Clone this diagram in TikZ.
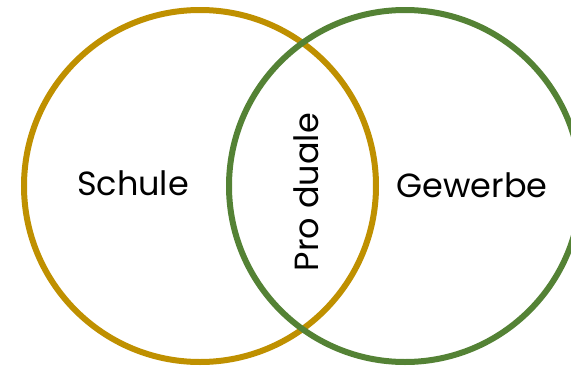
\documentclass[tikz,border=0pt]{standalone}
\usepackage{fontspec}
\setmainfont{Poppins}
\definecolor{gold}{HTML}{BF9000}
\definecolor{leafgreen}{HTML}{548235}
\tikzset{
  ring/.style={line width=6pt, draw=#1},
  lbl/.style={font=\fontsize{33.5}{40}\selectfont, inner sep=0pt, text=black}
}
\begin{document}
\begin{tikzpicture}[x=1pt,y=-1pt]
\useasboundingbox (0,0) rectangle (571,367);
\clip (0,0) rectangle (571,367);
\draw[ring=gold] (200,186) circle[radius=176];
\draw[ring=leafgreen] (405,186) circle[radius=176];
\node[lbl] (schule) at (133,183) {Schule};
\node[lbl] (gewerbe) at (472,185) {Gewerbe};
\node[lbl, rotate=90] (produale) at (306,192) {Pro duale};
\end{tikzpicture}
\end{document}
